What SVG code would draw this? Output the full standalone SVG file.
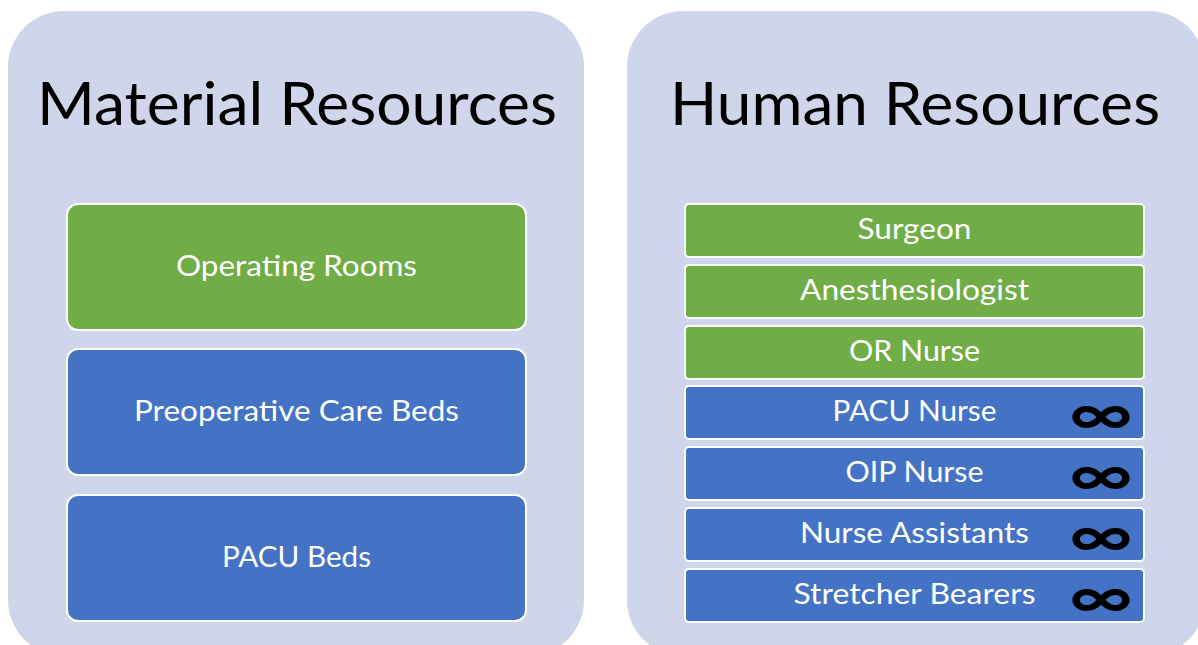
<svg xmlns="http://www.w3.org/2000/svg" width="1198" height="645" viewBox="0 0 1198 645">
<style>
.panel{fill:#CFD5EA}
.title{font-family:Lato,"Liberation Sans",sans-serif;font-size:60px;fill:#000;text-anchor:middle}
.g{fill:#70AD47;stroke:#fff;stroke-width:2}
.b{fill:#4472C4;stroke:#fff;stroke-width:2}
.lbl{font-family:Lato,"Liberation Sans",sans-serif;font-size:28px;fill:#fff;text-anchor:middle}
.inf{font-family:Inter,"DejaVu Sans",sans-serif;font-weight:600;font-size:51px;fill:#000;text-anchor:middle}
</style>
<rect width="1198" height="645" fill="#fff"/>
<g id="material">
<rect class="panel" x="8" y="11" width="576" height="645" rx="56"/>
<text class="title" x="297" y="125" textLength="520" lengthAdjust="spacingAndGlyphs">Material Resources</text>
</g>
<g id="human">
<rect class="panel" x="627" y="11" width="578" height="645" rx="56"/>
<text class="title" x="915" y="125" textLength="490" lengthAdjust="spacingAndGlyphs">Human Resources</text>
</g>
<g id="operating-rooms">
<rect class="g" x="67" y="204" width="459" height="126" rx="11"/>
<text class="lbl" x="296.5" y="276" textLength="241" lengthAdjust="spacingAndGlyphs">Operating Rooms</text>
</g>
<g id="preop-beds">
<rect class="b" x="67" y="349" width="459" height="126" rx="11"/>
<text class="lbl" x="296.5" y="421" textLength="325" lengthAdjust="spacingAndGlyphs">Preoperative Care Beds</text>
</g>
<g id="pacu-beds">
<rect class="b" x="67" y="495" width="459" height="126" rx="11"/>
<text class="lbl" x="296.5" y="567" textLength="149" lengthAdjust="spacingAndGlyphs">PACU Beds</text>
</g>
<g id="surgeon">
<rect class="g" x="685" y="204" width="459" height="53" rx="4"/>
<text class="lbl" x="914.5" y="239" textLength="114" lengthAdjust="spacingAndGlyphs">Surgeon</text>
</g>
<g id="anesthesiologist">
<rect class="g" x="685" y="265" width="459" height="53" rx="4"/>
<text class="lbl" x="914.5" y="300" textLength="229" lengthAdjust="spacingAndGlyphs">Anesthesiologist</text>
</g>
<g id="or-nurse">
<rect class="g" x="685" y="326" width="459" height="53" rx="4"/>
<text class="lbl" x="914.5" y="361" textLength="131" lengthAdjust="spacingAndGlyphs">OR Nurse</text>
</g>
<g id="pacu-nurse">
<rect class="b" x="685" y="386" width="459" height="53" rx="4"/>
<text class="lbl" x="914.5" y="421" textLength="164" lengthAdjust="spacingAndGlyphs">PACU Nurse</text>
<text class="inf" transform="translate(1101 433) scale(1.28 1.02)">∞</text>
</g>
<g id="oip-nurse">
<rect class="b" x="685" y="447" width="459" height="53" rx="4"/>
<text class="lbl" x="914.5" y="482" textLength="138" lengthAdjust="spacingAndGlyphs">OIP Nurse</text>
<text class="inf" transform="translate(1101 494) scale(1.28 1.02)">∞</text>
</g>
<g id="nurse-assistants">
<rect class="b" x="685" y="508" width="459" height="53" rx="4"/>
<text class="lbl" x="914.5" y="543" textLength="229" lengthAdjust="spacingAndGlyphs">Nurse Assistants</text>
<text class="inf" transform="translate(1101 555) scale(1.28 1.02)">∞</text>
</g>
<g id="stretcher-bearers">
<rect class="b" x="685" y="569" width="459" height="53" rx="4"/>
<text class="lbl" x="914.5" y="604" textLength="242" lengthAdjust="spacingAndGlyphs">Stretcher Bearers</text>
<text class="inf" transform="translate(1101 616) scale(1.28 1.02)">∞</text>
</g>
<g id="connectors"/>
</svg>
